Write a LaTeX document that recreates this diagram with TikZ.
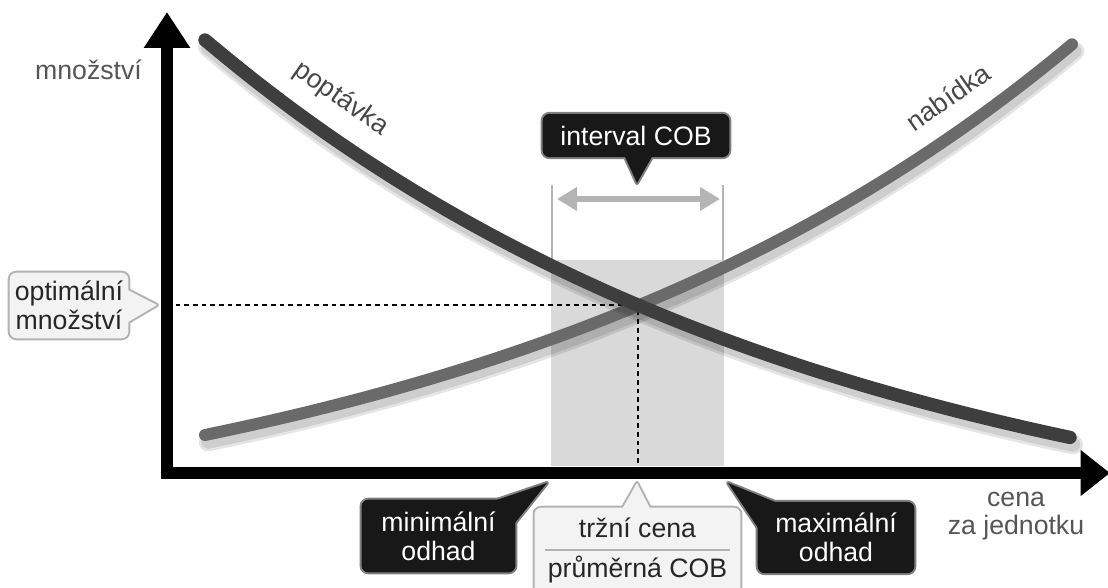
\documentclass[tikz,border=0pt]{standalone}
\usepackage{fontspec}
\setmainfont{Liberation Sans}
\usetikzlibrary{arrows.meta, backgrounds}
\definecolor{demandgray}{RGB}{62,62,62}
\definecolor{supplygray}{RGB}{106,106,106}
\definecolor{bandgray}{RGB}{217,217,217}
\definecolor{rangegray}{RGB}{180,180,180}
\definecolor{labelgray}{RGB}{85,85,85}
\definecolor{tipblack}{RGB}{24,24,24}
\definecolor{tippale}{RGB}{243,243,243}
\colorlet{tipblackrim}{black!50}
\colorlet{tippalerim}{black!30}

\newcommand{\calloutshape}[6]{%
  \draw[draw=#6, line width=3pt, rounded corners=5pt] (#1.south west) rectangle (#1.north east);
  \draw[draw=#6, line width=3pt, line join=round] (#3) -- (#2) -- (#4);
  \fill[#5, rounded corners=5pt] (#1.south west) rectangle (#1.north east);
  \fill[#5] (#3) -- (#2) -- (#4) -- cycle;
}

\begin{document}
\begin{tikzpicture}[
    x=0.75pt, y=-0.75pt,
    every node/.style={font=\fontsize{20pt}{21.5pt}\selectfont},
    darktip/.style={text=white, align=center, inner sep=0pt},
    paletip/.style={text=black!85, align=center, inner sep=0pt},
    axislabel/.style={text=labelgray, align=center},
    curvelabel/.style={text=black!72},
    axisline/.style={line width=9pt, line join=miter,
      {Triangle[length=27pt,width=33pt]}-{Triangle[length=22pt,width=33pt]}},
    demandline/.style={demandgray, line width=10pt, line cap=round},
    supplyline/.style={supplygray, line width=9pt, line cap=round},
    curveshadow/.style={black, opacity=0.10, line width=#1, line cap=round, shift={(3,7)}},
    guideline/.style={black, line width=0.9pt, dash pattern=on 3.5pt off 3pt},
    cobband/.style={fill=bandgray},
    rangeedge/.style={rangegray, line width=1.5pt},
    rangearrow/.style={rangegray, line width=5pt,
      {Triangle[length=15pt,width=17pt]}-{Triangle[length=15pt,width=17pt]}},
  ]
  \useasboundingbox (0,0) rectangle (1108,588);
  \clip (0,0) rectangle (1108,588);

  \coordinate (O) at (167,473);
  \coordinate (ytip) at (167,12);
  \coordinate (xtip) at (1110,473);
  \coordinate (E) at (638,305);
  \coordinate (bandL) at (551,260);
  \coordinate (bandR) at (724,466);
  \coordinate (rangeL) at (557,199);
  \coordinate (rangeR) at (720,199);

  \fill[cobband] (bandL) rectangle (bandR);
  \draw[rangeedge] ([xshift=0.75pt]bandL) -- ++(0,-75);
  \draw[rangeedge] (bandR |- bandL) ++(-1,0) -- ++(0,-75);
  \draw[rangearrow] (rangeL) -- (rangeR);

  \draw[guideline] (E -| O) -- (E) -- (E |- O);

  \draw[curveshadow=14pt] plot[domain=205:1072, samples=80] (\x, {435-127.5*(exp(0.001624*(\x-205))-1)});
  \draw[curveshadow=10pt] plot[domain=205:1072, samples=80] (\x, {435-127.5*(exp(0.001624*(\x-205))-1)});
  \draw[supplyline] plot[domain=205:1072, samples=80] (\x, {435-127.5*(exp(0.001624*(\x-205))-1)});
  \draw[curveshadow=15pt] plot[domain=205:1070, samples=80] (\x, {40+530*(1-exp(-0.0016*(\x-205)))});
  \draw[curveshadow=11pt] plot[domain=205:1070, samples=80] (\x, {40+530*(1-exp(-0.0016*(\x-205)))});
  \draw[demandline] plot[domain=205:1070, samples=80] (\x, {40+530*(1-exp(-0.0016*(\x-205)))});

  \draw[axisline] (ytip) -- (O) -- (xtip);

  \node[axislabel, anchor=base] (ylbl) at (88.5,80) {množství};
  \node[axislabel] (xlbl) at (1016,516) {cena\\za jednotku};
  \node[curvelabel, rotate=-35] (dlbl) at (341,99) {poptávka};
  \node[curvelabel, rotate=35] (slbl) at (948,97) {nabídka};

  \node[paletip, minimum width=88.5pt, minimum height=48.75pt] (opt) at (69,305.5) {optimální\\množství};
  \node[darktip, minimum width=139.5pt, minimum height=32pt] (cob) at (636,135.5) {interval COB};
  \node[darktip, minimum width=115pt, minimum height=54pt] (minest) at (438.5,536) {minimální\\odhad};
  \node[darktip, minimum width=117pt, minimum height=53pt] (maxest) at (836,537.5) {maximální\\odhad};
  \node[paletip, minimum width=154pt, minimum height=67.5pt] (mkt) at (637.5,553) {};
  \node[paletip] (mktA) at (637.5,528) {tržní cena};
  \node[paletip] (mktB) at (637.5,570) {průměrná COB};
  \coordinate (sep) at (637.5,550);
  \draw[tippalerim, line width=1pt] ([xshift=7.5pt]mkt.west |- sep) -- ([xshift=-7.5pt]mkt.east |- sep);

  \begin{scope}[on background layer]
    \calloutshape{opt}{157,305}{118,285}{118,328}{tippale}{tippalerim}
    \calloutshape{cob}{637,183}{621,148}{657,148}{tipblack}{tipblackrim}
    \calloutshape{minest}{547,483}{482,505}{507,533}{tipblack}{tipblackrim}
    \calloutshape{mkt}{637,483}{617,518}{655,518}{tippale}{tippalerim}
    \calloutshape{maxest}{728,483}{790,508}{766,540}{tipblack}{tipblackrim}
  \end{scope}
\end{tikzpicture}
\end{document}
